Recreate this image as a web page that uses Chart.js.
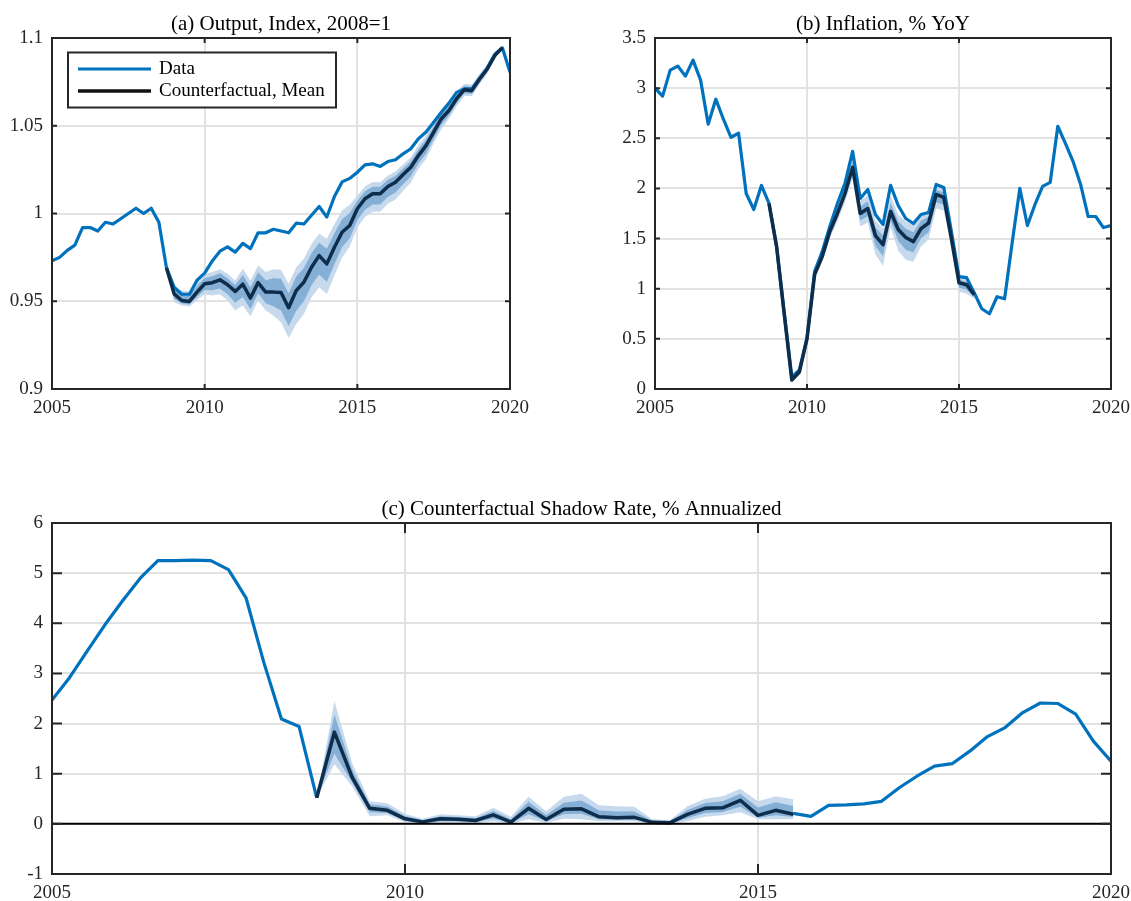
<!DOCTYPE html>
<html><head><meta charset="utf-8">
<script src="https://cdn.jsdelivr.net/npm/chart.js@4.4.0/dist/chart.umd.min.js"></script>
<style>
html,body{margin:0;padding:0;background:#fff;width:1131px;height:901px;overflow:hidden}
canvas{position:absolute}
</style></head><body>
<canvas id="ca" width="565" height="440" style="left:0px;top:0px"></canvas>
<canvas id="cb" width="566" height="440" style="left:565px;top:0px"></canvas>
<canvas id="cc" width="1131" height="441" style="left:0px;top:460px"></canvas>
<script>
// ---------- DATA ----------
const dates = [2005, 2005.25, 2005.5, 2005.75, 2006, 2006.25, 2006.5, 2006.75, 2007, 2007.25, 2007.5, 2007.75,
  2008, 2008.25, 2008.5, 2008.75, 2009, 2009.25, 2009.5, 2009.75, 2010, 2010.25, 2010.5, 2010.75,
  2011, 2011.25, 2011.5, 2011.75, 2012, 2012.25, 2012.5, 2012.75, 2013, 2013.25, 2013.5, 2013.75,
  2014, 2014.25, 2014.5, 2014.75, 2015, 2015.25, 2015.5, 2015.75, 2016, 2016.25, 2016.5, 2016.75,
  2017, 2017.25, 2017.5, 2017.75, 2018, 2018.25, 2018.5, 2018.75, 2019, 2019.25, 2019.5, 2019.75, 2020];
const cfStart = 15; // counterfactual begins at 2008.75

// (a) Output
const outputData = [0.973, 0.975, 0.979, 0.982, 0.992, 0.992, 0.990, 0.995, 0.994, 0.997, 1.000, 1.003, 1.000, 1.003, 0.995,
  0.969, 0.958, 0.954, 0.954, 0.962, 0.966, 0.973, 0.9785, 0.981, 0.978, 0.983, 0.980, 0.989, 0.989, 0.991, 0.990,
  0.989, 0.9945, 0.994, 0.999, 1.004, 0.998, 1.0097, 1.018, 1.020, 1.0235, 1.0277, 1.0283, 1.0268, 1.0296, 1.0306,
  1.034, 1.0369, 1.0426, 1.0464, 1.052, 1.0577, 1.0629, 1.069, 1.071, 1.071, 1.077, 1.0827, 1.0906, 1.0944, 1.0805];
const outputCfMean = [0.969, 0.9542, 0.9504, 0.9499, 0.9552, 0.9600, 0.9606, 0.9622, 0.9594, 0.9556,
  0.9597, 0.9518, 0.9606, 0.9552, 0.9552, 0.9550, 0.9463, 0.9561, 0.9609, 0.9694,
  0.9760, 0.9713, 0.9808, 0.9893, 0.9932, 1.0027, 1.0084, 1.0112, 1.0112, 1.0154,
  1.0178, 1.0222, 1.0264, 1.0330, 1.0387, 1.0463, 1.0540, 1.0587, 1.0654, 1.0705,
  1.0700, 1.0765, 1.0822, 1.0900, 1.0944];
const outputOuterLo = [0.969, 0.9495, 0.9476, 0.9470, 0.9505, 0.9540, 0.9533, 0.9540, 0.9504, 0.9447,
  0.9476, 0.9413, 0.9504, 0.9447, 0.9419, 0.9380, 0.9290, 0.9370, 0.9428, 0.9523,
  0.9580, 0.9542, 0.9647, 0.9750, 0.9810, 0.9920, 0.9980, 1.0010, 1.0010, 1.0055,
  1.0080, 1.0130, 1.0175, 1.0255, 1.0310, 1.0400, 1.0480, 1.0540, 1.0610, 1.0670,
  1.0670, 1.0735, 1.0795, 1.0878, 1.0944];
const outputOuterHi = [0.969, 0.9580, 0.9562, 0.9555, 0.9610, 0.9655, 0.9666, 0.9683, 0.9656, 0.9618,
  0.9685, 0.9618, 0.9704, 0.9666, 0.9683, 0.9680, 0.9600, 0.9694, 0.9742, 0.9827,
  0.9884, 0.9856, 0.9940, 1.0017, 1.0050, 1.0103, 1.0155, 1.0180, 1.0178, 1.0217,
  1.0240, 1.0280, 1.0320, 1.0390, 1.0445, 1.0520, 1.0590, 1.0630, 1.0695, 1.0740,
  1.0735, 1.0796, 1.0850, 1.0922, 1.0944];
const outputInnerLo = [0.969, 0.9514, 0.9487, 0.9482, 0.9524, 0.9564, 0.9562, 0.9573, 0.9540, 0.9491,
  0.9524, 0.9455, 0.9545, 0.9489, 0.9472, 0.9448, 0.9359, 0.9446, 0.9500, 0.9591,
  0.9652, 0.9610, 0.9711, 0.9807, 0.9859, 0.9963, 1.0022, 1.0051, 1.0051, 1.0095,
  1.0119, 1.0167, 1.0211, 1.0285, 1.0341, 1.0425, 1.0504, 1.0559, 1.0628, 1.0684,
  1.0682, 1.0747, 1.0806, 1.0887, 1.0944];
const outputInnerHi = [0.969, 0.9565, 0.9539, 0.9533, 0.9587, 0.9633, 0.9642, 0.9659, 0.9631, 0.9593,
  0.9650, 0.9578, 0.9665, 0.9620, 0.9631, 0.9628, 0.9545, 0.9641, 0.9689, 0.9774,
  0.9834, 0.9799, 0.9887, 0.9967, 1.0003, 1.0073, 1.0127, 1.0153, 1.0152, 1.0192,
  1.0215, 1.0257, 1.0298, 1.0366, 1.0422, 1.0497, 1.0570, 1.0613, 1.0679, 1.0726,
  1.0721, 1.0784, 1.0839, 1.0913, 1.0944];

// (b) Inflation
const inflData = [3.00, 2.92, 3.18, 3.22, 3.12, 3.28, 3.08, 2.64, 2.89, 2.69, 2.51, 2.55, 1.95, 1.79, 2.03,
  1.85, 1.42, 0.76, 0.12, 0.19, 0.51,
  1.17, 1.37, 1.62, 1.85, 2.05, 2.37, 1.90, 1.99, 1.74, 1.64,
  2.03, 1.83, 1.70, 1.65, 1.74, 1.76, 2.04, 2.01, 1.57, 1.12,
  1.11, 0.96, 0.80, 0.75, 0.92, 0.90, 1.46, 2.00, 1.63, 1.84,
  2.02, 2.06, 2.62, 2.45, 2.27, 2.04, 1.72, 1.72, 1.61, 1.63];
const inflCfMean = [1.85, 1.42, 0.75, 0.09, 0.17, 0.50, 1.14, 1.32, 1.57, 1.75,
  1.95, 2.21, 1.75, 1.80, 1.53, 1.44, 1.77, 1.59, 1.51, 1.47,
  1.60, 1.655, 1.94, 1.91, 1.50, 1.06, 1.04, 0.94];
const inflOuterLo = [1.85, 1.40, 0.73, 0.06, 0.14, 0.47, 1.10, 1.27, 1.50, 1.67,
  1.86, 2.10, 1.62, 1.66, 1.34, 1.23, 1.61, 1.38, 1.29, 1.27,
  1.42, 1.49, 1.80, 1.78, 1.40, 0.97, 0.95, 0.90];
const inflOuterHi = [1.85, 1.44, 0.78, 0.12, 0.20, 0.53, 1.17, 1.36, 1.61, 1.82,
  2.02, 2.30, 1.88, 1.93, 1.68, 1.60, 1.93, 1.74, 1.67, 1.64,
  1.74, 1.77, 2.02, 2.00, 1.58, 1.12, 1.09, 0.97];
const inflInnerLo = [1.85, 1.41, 0.739, 0.074, 0.157, 0.484, 1.118, 1.293, 1.532, 1.706,
  1.90, 2.15, 1.68, 1.723, 1.426, 1.325, 1.682, 1.475, 1.389, 1.36,
  1.50, 1.564, 1.863, 1.838, 1.445, 1.01, 0.99, 0.918];
const inflInnerHi = [1.85, 1.43, 0.767, 0.107, 0.186, 0.516, 1.157, 1.342, 1.592, 1.789,
  1.989, 2.26, 1.82, 1.872, 1.613, 1.528, 1.858, 1.672, 1.598, 1.564,
  1.677, 1.718, 1.984, 1.96, 1.544, 1.093, 1.068, 0.957];

// (c) Shadow rate
const rateData = [2.47, 2.92, 3.45, 3.97, 4.45, 4.90, 5.25, 5.25, 5.26, 5.25, 5.07, 4.50, 3.22, 2.09, 1.94, 0.52,
  null, null, null, null, null, null, null, null, null, null, null, null, null,
  null, null, null, null, null, null, null, null, null, null, null, null, null,
  0.21, 0.15, 0.37, 0.38, 0.40, 0.45, 0.72, 0.95, 1.15, 1.20, 1.45, 1.74, 1.92, 2.22, 2.41, 2.40, 2.19, 1.65, 1.25];
const rateCfMean = [0.52, 1.83, 0.93, 0.31, 0.27, 0.10, 0.04, 0.10, 0.093, 0.067,
  0.18, 0.033, 0.31, 0.087, 0.29, 0.30, 0.14, 0.12, 0.13, 0.03,
  0.02, 0.19, 0.31, 0.32, 0.47, 0.17, 0.27, 0.19];
const rateOuterLo = [0.52, 1.19, 0.75, 0.15, 0.17, 0.03, 0.00, 0.02, 0.02, 0.01,
  0.05, 0.00, 0.09, 0.02, 0.10, 0.09, 0.05, 0.05, 0.05, 0.00,
  0.00, 0.05, 0.14, 0.17, 0.23, 0.09, 0.09, 0.09];
const rateOuterHi = [0.52, 2.45, 1.22, 0.45, 0.41, 0.20, 0.10, 0.19, 0.17, 0.15,
  0.32, 0.14, 0.54, 0.25, 0.54, 0.60, 0.37, 0.35, 0.34, 0.09,
  0.07, 0.35, 0.50, 0.55, 0.70, 0.45, 0.55, 0.49];
const rateInnerLo = [0.52, 1.40, 0.83, 0.23, 0.215, 0.06, 0.018, 0.05, 0.053, 0.035,
  0.108, 0.015, 0.19, 0.05, 0.19, 0.20, 0.09, 0.08, 0.085, 0.013,
  0.009, 0.113, 0.216, 0.237, 0.343, 0.124, 0.17, 0.135];
const rateInnerHi = [0.52, 2.18, 1.09, 0.39, 0.345, 0.155, 0.073, 0.15, 0.135, 0.113,
  0.257, 0.092, 0.44, 0.177, 0.42, 0.465, 0.265, 0.245, 0.245, 0.063,
  0.047, 0.278, 0.415, 0.449, 0.600, 0.327, 0.43, 0.355];

const xTicks = [2005, 2010, 2015, 2020];
const titles = ['(a) Output, Index, 2008=1', '(b) Inflation, % YoY', '(c) Counterfactual Shadow Rate, % Annualized'];
const legendLabels = ['Data', 'Counterfactual, Mean'];

// ---------- STYLE ----------
const BLUE = '#0072BD', CF = '#0d2d4b', INNER = '#86afd6', OUTER = '#c7daed';
const AXIS = '#262626', GRID = '#e2e2e2';
const FONT = '"Liberation Serif", "Times New Roman", serif';

function series(ys) { return ys.map((v, k) => ({x: dates[k], y: v})); }
function band(ys) { return ys.map((v, k) => ({x: dates[cfStart + k], y: v})); }

const panelPlugin = {
  id: 'panel',
  afterDraw(chart, args, o) {
    const {ctx, chartArea: a} = chart;
    const xs = chart.scales.x, ys = chart.scales.y;
    ctx.save();
    if (o.zero) {
      const py = ys.getPixelForValue(0);
      ctx.strokeStyle = '#000'; ctx.lineWidth = 2;
      ctx.beginPath(); ctx.moveTo(a.left, py); ctx.lineTo(a.right, py); ctx.stroke();
    }
    ctx.strokeStyle = AXIS; ctx.lineWidth = 2; ctx.lineCap = 'butt';
    ctx.beginPath();
    ys.ticks.forEach(t => {
      const py = ys.getPixelForValue(t.value);
      ctx.moveTo(a.left, py); ctx.lineTo(a.left + o.tick, py);
      ctx.moveTo(a.right, py); ctx.lineTo(a.right - o.tick, py);
    });
    xs.ticks.forEach(t => {
      const px = xs.getPixelForValue(t.value);
      ctx.moveTo(px, a.bottom); ctx.lineTo(px, a.bottom - o.tick);
      ctx.moveTo(px, a.top); ctx.lineTo(px, a.top + o.tick);
    });
    ctx.stroke();
    ctx.strokeRect(a.left, a.top, a.right - a.left, a.bottom - a.top);
    ctx.fillStyle = '#000';
    ctx.font = '21px ' + FONT;
    ctx.textAlign = 'center'; ctx.textBaseline = 'alphabetic';
    ctx.fillText(o.title, (a.left + a.right) / 2, a.top - 8);
    if (o.legend) {
      const L = a.left + 16, T = a.top + 14.5, W = 268, H = 55;
      ctx.fillStyle = '#fff'; ctx.fillRect(L, T, W, H);
      ctx.strokeStyle = AXIS; ctx.lineWidth = 2; ctx.strokeRect(L, T, W, H);
      ctx.lineWidth = 3; ctx.strokeStyle = BLUE;
      ctx.beginPath(); ctx.moveTo(L + 10, T + 16.5); ctx.lineTo(L + 83, T + 16.5); ctx.stroke();
      ctx.lineWidth = 3.5; ctx.strokeStyle = '#111';
      ctx.beginPath(); ctx.moveTo(L + 10, T + 38.5); ctx.lineTo(L + 83, T + 38.5); ctx.stroke();
      ctx.fillStyle = '#000'; ctx.font = '19px ' + FONT; ctx.textAlign = 'left';
      ctx.fillText(legendLabels[0], L + 91, T + 21.5);
      ctx.fillText(legendLabels[1], L + 91, T + 43.5);
    }
    ctx.restore();
  }
};

function makePanel(id, p) {
  const datasets = [
    {label: legendLabels[1], data: band(p.cf), borderColor: CF, borderWidth: 3.5, fill: false, order: 0},
    {label: legendLabels[0], data: series(p.data), borderColor: BLUE, borderWidth: 3.2, fill: false, order: 1},
    {label: 'innerHi', data: band(p.inHi), borderColor: 'rgba(0,0,0,0)', borderWidth: 0, backgroundColor: INNER, fill: {target: 3}, order: 2},
    {label: 'innerLo', data: band(p.inLo), borderColor: 'rgba(0,0,0,0)', borderWidth: 0, fill: false, order: 3},
    {label: 'outerHi', data: band(p.outHi), borderColor: 'rgba(0,0,0,0)', borderWidth: 0, backgroundColor: OUTER, fill: {target: 5}, order: 4},
    {label: 'outerLo', data: band(p.outLo), borderColor: 'rgba(0,0,0,0)', borderWidth: 0, fill: false, order: 5}
  ];
  const tickFont = {family: FONT, size: 19};
  return new Chart(document.getElementById(id), {
    type: 'line',
    data: {datasets},
    plugins: [panelPlugin],
    options: {
      responsive: false, animation: false, events: [],
      layout: {padding: {left: 0, top: p.padTop, right: p.padRight, bottom: 0}},
      elements: {point: {radius: 0}, line: {tension: 0, borderJoinStyle: 'round', borderCapStyle: 'butt'}},
      plugins: {
        legend: {display: false}, tooltip: {enabled: false},
        panel: {title: p.title, tick: p.tick, zero: p.zero, legend: p.legend}
      },
      scales: {
        x: {
          type: 'linear', min: 2005, max: 2020,
          afterBuildTicks: s => { s.ticks = xTicks.map(v => ({value: v})); },
          ticks: {autoSkip: false, maxRotation: 0, font: tickFont, color: AXIS, padding: 8, callback: v => String(v)},
          grid: {color: GRID, lineWidth: 2, drawTicks: false},
          border: {display: false},
          afterFit: s => { s.height = p.xH; s.paddingLeft = 0; s.paddingRight = 0; }
        },
        y: {
          type: 'linear', min: p.yMin, max: p.yMax,
          afterBuildTicks: s => { s.ticks = p.yTicks.map(v => ({value: v})); },
          ticks: {font: tickFont, color: AXIS, padding: 9, callback: v => String(v)},
          grid: {color: GRID, lineWidth: 2, drawTicks: false},
          border: {display: false},
          afterFit: s => { s.width = p.yW; s.paddingTop = 0; s.paddingBottom = 0; }
        }
      }
    }
  });
}

const outputTicks = [0.9, 0.95, 1, 1.05, 1.1];
const inflTicks = [0, 0.5, 1, 1.5, 2, 2.5, 3, 3.5];
const rateTicks = [-1, 0, 1, 2, 3, 4, 5, 6];

makePanel('ca', {data: outputData, cf: outputCfMean, outLo: outputOuterLo, outHi: outputOuterHi, inLo: outputInnerLo, inHi: outputInnerHi,
  yMin: 0.9, yMax: 1.1, yTicks: outputTicks, title: titles[0], tick: 5, zero: false, legend: true,
  padTop: 38, padRight: 55, yW: 52, xH: 51});
makePanel('cb', {data: inflData, cf: inflCfMean, outLo: inflOuterLo, outHi: inflOuterHi, inLo: inflInnerLo, inHi: inflInnerHi,
  yMin: 0, yMax: 3.5, yTicks: inflTicks, title: titles[1], tick: 5, zero: false, legend: false,
  padTop: 38, padRight: 20, yW: 90, xH: 51});
makePanel('cc', {data: rateData, cf: rateCfMean, outLo: rateOuterLo, outHi: rateOuterHi, inLo: rateInnerLo, inHi: rateInnerHi,
  yMin: -1, yMax: 6, yTicks: rateTicks, title: titles[2], tick: 10, zero: true, legend: false,
  padTop: 63, padRight: 20, yW: 52, xH: 27});
</script>
</body></html>
